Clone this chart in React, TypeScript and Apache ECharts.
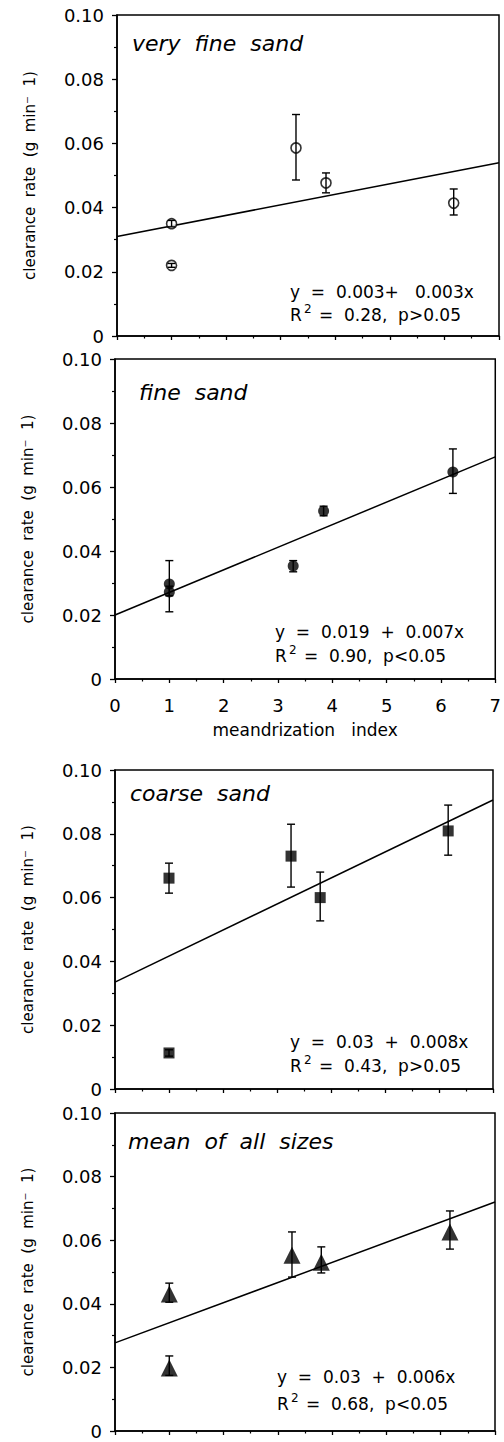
import React, { useEffect, useRef } from "react";
import * as echarts from "echarts";

// ---- data ----
const fitX = [0, 7];

// very fine sand (open circles)
const xVF = [1, 1, 3.28, 3.83, 6.17];
const yVF = [0.035, 0.022, 0.0586, 0.0477, 0.0414];
const loVF = [0.034, 0.0214, 0.0486, 0.0446, 0.0377];
const hiVF = [0.036, 0.0226, 0.069, 0.0508, 0.0458];
const fitVF = [0.031, 0.054];

// fine sand (filled circles)
const xF = [1, 1, 3.28, 3.84, 6.22];
const yF = [0.0297, 0.0272, 0.0353, 0.0525, 0.0647];
const loF = [0.026, 0.021, 0.0335, 0.051, 0.058];
const hiF = [0.037, 0.029, 0.037, 0.054, 0.0719];
const fitF = [0.02, 0.0694];

// coarse sand (filled squares)
const xC = [1, 1, 3.26, 3.8, 6.17];
const yC = [0.0661, 0.0113, 0.073, 0.06, 0.0809];
const loC = [0.0614, 0.0103, 0.0633, 0.0527, 0.0733];
const hiC = [0.0708, 0.0123, 0.083, 0.068, 0.089];
const fitC = [0.0335, 0.0906];

// mean of all sizes (filled triangles)
const xM = [1, 1, 3.26, 3.8, 6.17];
const yM = [0.0431, 0.0198, 0.0553, 0.0531, 0.0626];
const loM = [0.0405, 0.0175, 0.0484, 0.0497, 0.0572];
const hiM = [0.0465, 0.0236, 0.0626, 0.0579, 0.0692];
const fitM = [0.0277, 0.072];

const panelTitles = ["very  fine  sand", "fine  sand", "coarse  sand", "mean  of  all  sizes"];
const eqLine1 = ["y  =  0.003+   0.003x", "y  =  0.019  +  0.007x", "y  =  0.03  +  0.008x", "y  =  0.03  +  0.006x"];
const eqLine2 = ["=  0.28,  p>0.05", "=  0.90,  p<0.05", "=  0.43,  p>0.05", "=  0.68,  p<0.05"];
const xTickLabels = ["0", "1", "2", "3", "4", "5", "6", "7"];
const yAxisTitle = "clearance  rate  (g  min\u207B  1)";
const xAxisTitle = "meandrization   index";

const FONT = "DejaVu Sans";

export default function App() {
  const ref = useRef<HTMLDivElement>(null);
  useEffect(() => {
    document.body.style.margin = "0";
    const chart = echarts.init(ref.current!, null, { renderer: "svg" });

    const grids = [
      { left: 117, top: 15, width: 382, height: 321 },
      { left: 115, top: 359, width: 382, height: 320 },
      { left: 115, top: 770, width: 378, height: 319 },
      { left: 115, top: 1113, width: 380, height: 318 },
    ];
    const panels = [
      { x: xVF, y: yVF, lo: loVF, hi: hiVF, fit: fitVF, symbol: "circle", size: 10, fill: "#fff" },
      { x: xF, y: yF, lo: loF, hi: hiF, fit: fitF, symbol: "circle", size: 11, fill: "#000" },
      { x: xC, y: yC, lo: loC, hi: hiC, fit: fitC, symbol: "rect", size: 11, fill: "#000" },
      { x: xM, y: yM, lo: loM, hi: hiM, fit: fitM, symbol: "triangle", size: 17, fill: "#000" },
    ];

    const xAxes = grids.map((_, i) => ({
      type: "value",
      gridIndex: i,
      min: 0,
      max: 7,
      interval: 1,
      axisLine: { show: true, onZero: false, lineStyle: { color: "#000", width: 1.5 } },
      axisTick: { show: true, length: 4, lineStyle: { color: "#000", width: 1.3 } },
      minorTick: { show: true, splitNumber: 2, length: 2.5, lineStyle: { color: "#000", width: 1.2 } },
      splitLine: { show: false },
      axisLabel: {
        show: i === 1,
        margin: 17,
        fontSize: 18,
        fontFamily: FONT,
        color: "#000",
        formatter: (v: number) => xTickLabels[Math.round(v)] ?? "",
      },
      name: i === 1 ? xAxisTitle : "",
      nameLocation: "middle",
      nameGap: 42,
      nameTextStyle: { fontSize: 17, fontFamily: FONT, color: "#000" },
    }));

    const yAxes = grids.map((_, i) => ({
      type: "value",
      gridIndex: i,
      min: 0,
      max: 0.1,
      interval: 0.02,
      axisLine: { show: true, lineStyle: { color: "#000", width: 1.5 } },
      axisTick: { show: true, length: 5, lineStyle: { color: "#000", width: 1.3 } },
      minorTick: { show: true, splitNumber: 2, length: 3, lineStyle: { color: "#000", width: 1.2 } },
      splitLine: { show: false },
      axisLabel: {
        margin: 13,
        fontSize: 18,
        fontFamily: FONT,
        color: "#000",
        formatter: (v: number) => (v === 0 ? "0" : v.toFixed(2)),
      },
      name: yAxisTitle,
      nameLocation: "middle",
      nameGap: 80,
      nameRotate: 90,
      nameTextStyle: { fontSize: 15, fontFamily: FONT, color: "#000" },
    }));

    const series: any[] = [];
    panels.forEach((p, i) => {
      series.push({
        type: "line",
        xAxisIndex: i,
        yAxisIndex: i,
        data: fitX.map((xv, k) => [xv, p.fit[k]]),
        showSymbol: false,
        symbol: "none",
        lineStyle: { color: "#000", width: 1.5 },
        z: 2,
      });
      series.push({
        type: "scatter",
        xAxisIndex: i,
        yAxisIndex: i,
        data: p.x.map((xv, k) => [xv, p.y[k]]),
        symbol: p.symbol,
        symbolSize: p.size,
        itemStyle: { color: p.fill, borderColor: "#000", borderWidth: p.fill === "#fff" ? 1.6 : 0 },
        z: 3,
      });
      series.push({
        type: "custom",
        xAxisIndex: i,
        yAxisIndex: i,
        data: p.x.map((xv, k) => [xv, p.lo[k], p.hi[k]]),
        encode: { x: 0, y: [1, 2] },
        z: 4,
        renderItem: (params: any, api: any) => {
          const xv = api.value(0);
          const a = api.coord([xv, api.value(1)]);
          const b = api.coord([xv, api.value(2)]);
          const hw = 4;
          const st = { stroke: "#000", lineWidth: 1.4 };
          return {
            type: "group",
            children: [
              { type: "line", shape: { x1: a[0], y1: a[1], x2: b[0], y2: b[1] }, style: st },
              { type: "line", shape: { x1: a[0] - hw, y1: a[1], x2: a[0] + hw, y2: a[1] }, style: st },
              { type: "line", shape: { x1: b[0] - hw, y1: b[1], x2: b[0] + hw, y2: b[1] }, style: st },
            ],
          };
        },
      });
    });

    const titlePos = [
      [132, 43],
      [139, 392],
      [130, 793],
      [128, 1141],
    ];
    const eqPos = [
      [290, 292, 315],
      [275, 632, 656],
      [290, 1042, 1066],
      [277, 1377, 1404],
    ];
    const graphic: any[] = [];
    panelTitles.forEach((t, i) => {
      graphic.push({
        type: "text",
        x: titlePos[i][0],
        y: titlePos[i][1],
        style: {
          text: t,
          font: `italic 22px "${FONT}"`,
          fill: "#000",
          verticalAlign: "middle",
        },
      });
    });
    eqLine1.forEach((t, i) => {
      const [x, y1, y2] = eqPos[i];
      const tf = `17px "${FONT}"`;
      graphic.push({
        type: "text",
        x,
        y: y1,
        style: { text: t, font: tf, fill: "#000", verticalAlign: "middle" },
      });
      graphic.push({
        type: "text",
        x,
        y: y2,
        style: { text: "R", font: tf, fill: "#000", verticalAlign: "middle" },
      });
      graphic.push({
        type: "text",
        x: x + 14,
        y: y2 - 6,
        style: { text: "2", font: `12px "${FONT}"`, fill: "#000", verticalAlign: "middle" },
      });
      graphic.push({
        type: "text",
        x: x + 29,
        y: y2,
        style: { text: eqLine2[i], font: tf, fill: "#000", verticalAlign: "middle" },
      });
    });

    chart.setOption({
      animation: false,
      backgroundColor: "#fff",
      grid: grids.map((g) => ({ ...g, show: true, borderColor: "#000", borderWidth: 1.5, backgroundColor: "transparent" })),
      xAxis: xAxes,
      yAxis: yAxes,
      series,
      graphic,
    });
    return () => chart.dispose();
  }, []);
  return <div ref={ref} style={{ width: 504, height: 1442 }} />;
}
